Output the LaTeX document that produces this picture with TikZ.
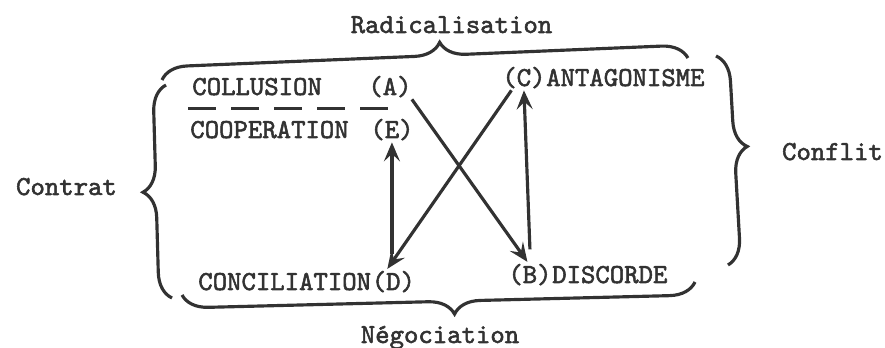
\documentclass[tikz,border=0pt]{standalone}
\usepackage{fontspec}
\newfontfamily\twfont{lmmono10-regular.otf}[FakeBold=2]
\usepackage{tikz}
\usetikzlibrary{arrows.meta, positioning, decorations.pathreplacing}
\definecolor{inkgray}{RGB}{50,50,50}

\begin{document}
\begin{tikzpicture}[lbl/.style={font=\twfont\fontsize{15.6}{18}\selectfont, text=inkgray, inner sep=1pt},
  part/.style={lbl, inner xsep=0pt, anchor=base west},
  arr/.style={draw=inkgray, line width=1.8pt, -{Stealth[length=3.8mm, width=3.2mm, inset=1.5mm]}},
  brc/.style={draw=inkgray, line width=1.8pt, decorate, decoration={brace, amplitude=0.52cm}}]
 \useasboundingbox (0,0) rectangle (17.7,6.96);
 \node[part] (coll) at (3.84,5.06){COLLUSION};
 \node[part] (a) at (7.36,5.06){(A)};
 \node[part] (coop) at (3.8,4.2){COOPERATION};
 \node[part] (e) at (7.4,4.2){(E)};
 \node[part] (conc) at (3.96,1.16){CONCILIATION};
 \node[part, anchor=base west] (d) at (conc.base east){(D)};
 \node[part] (b) at (10.16,1.3){(B)};
 \node[part] (disc) at (b.base east){DISCORDE};
 \node[part] (c) at (10.04,5.24){(C)};
 \node[part] (anta) at (c.base east){ANTAGONISME};
 \draw[draw=inkgray, line width=1.9pt, dash pattern=on 0.56cm off 0.3cm] (3.76,4.79) -- (7.86,4.79);
 \draw[arr] (a.south east) -- ([xshift=-0.05cm]b.north);
 \draw[arr] ([xshift=-0.25cm]c.south) -- ([xshift=-0.12cm]d.north);
 \draw[arr] ([yshift=0.3cm]d.north -| e.south) -- (e.south);
 \draw[arr] ([yshift=0.25cm]b.north) -- (c.south);
 \draw[brc, decoration={aspect=0.53}] (3.24,5.36) -- (13.76,5.8);
 \draw[brc, decoration={aspect=0.5}] (3.44,1.0) -- (3.32,5.26);
 \draw[brc, decoration={aspect=0.44}] (14.32,5.84) -- (14.56,1.66);
 \draw[brc, decoration={aspect=0.47}] (13.9,1.32) -- (3.64,1.06);
 \node[lbl, anchor=base] (radi) at (9.03,6.3){Radicalisation};
 \node[lbl, anchor=base] (cont) at (1.33,3.06){Contrat};
 \node[lbl, anchor=base west] (conf) at (15.6,3.76){Conflit};
 \node[lbl, anchor=base] (nego) at (8.8,0.1){Négociation};
\end{tikzpicture}
\end{document}
